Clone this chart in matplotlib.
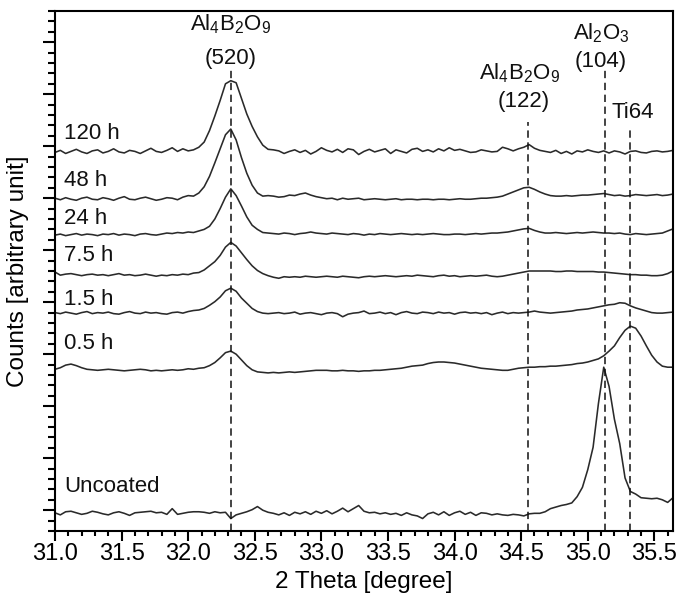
import matplotlib
matplotlib.use("Agg")
import matplotlib.pyplot as plt
from matplotlib.ticker import MultipleLocator, NullFormatter

plt.rcParams['font.family'] = ['Liberation Sans', 'DejaVu Sans']
plt.rcParams['mathtext.default'] = 'regular'

# 2-theta sampling positions (degree)
two_theta = [
    31.00, 31.04, 31.08, 31.12, 31.16, 31.20, 31.24, 31.28, 31.32, 31.36,
    31.40, 31.44, 31.48, 31.52, 31.56, 31.60, 31.64, 31.68, 31.72, 31.76,
    31.80, 31.84, 31.88, 31.92, 31.96, 32.00, 32.04, 32.08, 32.12, 32.16,
    32.20, 32.24, 32.28, 32.32, 32.36, 32.40, 32.44, 32.48, 32.52, 32.56,
    32.60, 32.64, 32.68, 32.72, 32.76, 32.80, 32.84, 32.88, 32.92, 32.96,
    33.00, 33.04, 33.08, 33.12, 33.16, 33.20, 33.24, 33.28, 33.32, 33.36,
    33.40, 33.44, 33.48, 33.52, 33.56, 33.60, 33.64, 33.68, 33.72, 33.76,
    33.80, 33.84, 33.88, 33.92, 33.96, 34.00, 34.04, 34.08, 34.12, 34.16,
    34.20, 34.24, 34.28, 34.32, 34.36, 34.40, 34.44, 34.48, 34.52, 34.56,
    34.60, 34.64, 34.68, 34.72, 34.76, 34.80, 34.84, 34.88, 34.92, 34.96,
    35.00, 35.04, 35.08, 35.12, 35.16, 35.20, 35.24, 35.28, 35.32, 35.36,
    35.40, 35.44, 35.48, 35.52, 35.56, 35.60, 35.64,
]

# Stacked (offset) counts, arbitrary units
counts_120h = [
    6.88, 6.92, 6.86, 6.90, 6.94, 6.89, 6.86, 6.91, 6.93, 6.87,
    6.90, 6.95, 6.89, 6.87, 6.92, 6.90, 6.86, 6.91, 6.96, 6.90,
    6.88, 6.92, 6.97, 6.90, 6.95, 6.91, 6.93, 6.98, 7.08, 7.30,
    7.58, 7.88, 8.20, 8.26, 8.22, 7.92, 7.62, 7.38, 7.18, 7.02,
    6.94, 6.93, 6.91, 6.86, 6.90, 6.93, 6.88, 6.92, 6.85, 6.90,
    6.97, 6.92, 6.89, 6.94, 6.88, 6.95, 6.93, 6.84, 6.90, 6.94,
    6.89, 6.92, 6.95, 6.86, 6.93, 6.90, 6.87, 6.94, 6.96, 6.90,
    6.93, 6.89, 6.95, 6.91, 6.97, 6.92, 6.94, 6.91, 6.88, 6.89,
    6.93, 6.91, 6.89, 6.90, 6.98, 6.95, 6.91, 6.95, 6.98, 7.03,
    6.96, 6.92, 6.90, 6.88, 6.92, 6.86, 6.90, 6.85, 6.91, 6.89,
    6.93, 6.90, 6.88, 6.91, 6.87, 6.91, 6.89, 6.85, 6.90, 6.91,
    6.88, 6.87, 6.90, 6.91, 6.89, 6.90, 6.92,
]
counts_48h = [
    6.00, 5.97, 6.01, 5.98, 5.96, 6.00, 6.02, 5.98, 5.97, 6.01,
    5.99, 5.96, 6.00, 6.03, 5.98, 5.97, 6.00, 6.02, 5.99, 5.96,
    5.98, 6.01, 6.00, 5.97, 6.02, 6.05, 6.04, 6.10, 6.22, 6.42,
    6.68, 6.95, 7.22, 7.33, 7.12, 6.78, 6.48, 6.25, 6.10, 6.04,
    6.05, 6.04, 6.02, 6.03, 6.06, 6.05, 6.08, 6.10, 6.06, 6.03,
    6.01, 5.99, 6.00, 5.97, 6.00, 5.98, 5.99, 6.00, 5.97, 5.98,
    5.99, 5.98, 5.97, 5.98, 5.99, 5.97, 5.98, 5.98, 5.97, 5.98,
    5.98, 5.97, 5.98, 5.98, 5.97, 5.98, 5.99, 5.98, 5.98, 5.99,
    6.00, 6.00, 6.01, 6.02, 6.04, 6.08, 6.12, 6.16, 6.20, 6.21,
    6.17, 6.12, 6.08, 6.05, 6.04, 6.04, 6.05, 6.04, 6.05, 6.06,
    6.06, 6.07, 6.08, 6.09, 6.07, 6.05, 6.06, 6.04, 6.05, 6.07,
    6.06, 6.05, 6.06, 6.07, 6.05, 6.06, 6.08,
]
counts_24h = [
    5.29, 5.31, 5.28, 5.30, 5.32, 5.29, 5.31, 5.30, 5.28, 5.31,
    5.30, 5.32, 5.29, 5.31, 5.30, 5.28, 5.31, 5.32, 5.30, 5.29,
    5.31, 5.33, 5.32, 5.34, 5.33, 5.35, 5.34, 5.37, 5.40, 5.46,
    5.60, 5.80, 6.02, 6.18, 6.05, 5.85, 5.64, 5.48, 5.40, 5.34,
    5.33, 5.32, 5.31, 5.33, 5.32, 5.30, 5.32, 5.33, 5.35, 5.33,
    5.32, 5.31, 5.33, 5.32, 5.31, 5.30, 5.32, 5.31, 5.29, 5.31,
    5.30, 5.32, 5.31, 5.30, 5.31, 5.32, 5.31, 5.30, 5.31, 5.30,
    5.31, 5.32, 5.31, 5.30, 5.30, 5.31, 5.31, 5.30, 5.31, 5.32,
    5.31, 5.32, 5.33, 5.33, 5.34, 5.35, 5.37, 5.39, 5.41, 5.42,
    5.38, 5.35, 5.33, 5.33, 5.34, 5.33, 5.32, 5.33, 5.34, 5.33,
    5.34, 5.35, 5.34, 5.33, 5.33, 5.32, 5.33, 5.31, 5.30, 5.32,
    5.31, 5.30, 5.31, 5.32, 5.33, 5.37, 5.41,
]
counts_7_5h = [
    4.58, 4.52, 4.54, 4.55, 4.53, 4.51, 4.53, 4.54, 4.52, 4.53,
    4.51, 4.53, 4.55, 4.52, 4.53, 4.51, 4.52, 4.54, 4.52, 4.50,
    4.52, 4.51, 4.53, 4.52, 4.54, 4.53, 4.56, 4.57, 4.62, 4.70,
    4.78, 4.90, 5.06, 5.15, 5.08, 4.95, 4.82, 4.70, 4.61, 4.55,
    4.51, 4.48, 4.46, 4.49, 4.48, 4.49, 4.48, 4.50, 4.49, 4.48,
    4.49, 4.50, 4.49, 4.48, 4.50, 4.49, 4.48, 4.47, 4.49, 4.50,
    4.49, 4.50, 4.51, 4.50, 4.49, 4.50, 4.51, 4.50, 4.52, 4.51,
    4.50, 4.49, 4.51, 4.52, 4.50, 4.51, 4.49, 4.50, 4.51, 4.50,
    4.51, 4.52, 4.50, 4.49, 4.50, 4.52, 4.54, 4.56, 4.58, 4.60,
    4.60, 4.60, 4.60, 4.60, 4.59, 4.59, 4.60, 4.60, 4.59, 4.59,
    4.59, 4.59, 4.58, 4.58, 4.57, 4.56, 4.55, 4.54, 4.53, 4.53,
    4.52, 4.52, 4.51, 4.51, 4.52, 4.55, 4.60,
]
counts_1_5h = [
    3.80, 3.78, 3.81, 3.79, 3.77, 3.80, 3.82, 3.78, 3.80, 3.79,
    3.81, 3.78, 3.77, 3.80, 3.82, 3.79, 3.78, 3.81, 3.79, 3.80,
    3.78, 3.77, 3.80, 3.81, 3.79, 3.82, 3.84, 3.85, 3.88, 3.94,
    4.01, 4.10, 4.22, 4.27, 4.21, 4.08, 3.98, 3.88, 3.82, 3.79,
    3.78, 3.79, 3.80, 3.78, 3.79, 3.81, 3.77, 3.79, 3.80, 3.78,
    3.76, 3.79, 3.80, 3.78, 3.72, 3.77, 3.79, 3.80, 3.83, 3.78,
    3.79, 3.81, 3.78, 3.80, 3.76, 3.80, 3.82, 3.79, 3.78, 3.81,
    3.80, 3.78, 3.81, 3.79, 3.80, 3.77, 3.80, 3.81, 3.79, 3.80,
    3.78, 3.80, 3.76, 3.79, 3.81, 3.78, 3.80, 3.79, 3.80, 3.81,
    3.83, 3.81, 3.80, 3.79, 3.80, 3.81, 3.82, 3.83, 3.85, 3.86,
    3.87, 3.89, 3.91, 3.93, 3.95, 3.96, 3.99, 3.98, 3.93, 3.89,
    3.86, 3.83, 3.80, 3.79, 3.79, 3.80, 3.81,
]
counts_0_5h = [
    2.71, 2.74, 2.79, 2.81, 2.78, 2.74, 2.71, 2.70, 2.69, 2.70,
    2.71, 2.70, 2.69, 2.68, 2.69, 2.70, 2.71, 2.70, 2.68, 2.69,
    2.68, 2.69, 2.70, 2.69, 2.70, 2.72, 2.71, 2.73, 2.74, 2.78,
    2.84, 2.93, 3.03, 3.06, 3.00, 2.89, 2.78, 2.70, 2.66, 2.65,
    2.64, 2.65, 2.64, 2.65, 2.66, 2.65, 2.66, 2.67, 2.68, 2.69,
    2.69, 2.69, 2.68, 2.68, 2.69, 2.68, 2.68, 2.67, 2.68, 2.68,
    2.69, 2.69, 2.70, 2.71, 2.72, 2.73, 2.75, 2.77, 2.78, 2.79,
    2.82, 2.84, 2.85, 2.85, 2.84, 2.83, 2.81, 2.79, 2.77, 2.75,
    2.73, 2.72, 2.71, 2.70, 2.69, 2.69, 2.71, 2.73, 2.74, 2.75,
    2.75, 2.76, 2.76, 2.77, 2.77, 2.78, 2.79, 2.80, 2.82, 2.83,
    2.85, 2.88, 2.91, 2.97, 3.06, 3.16, 3.32, 3.46, 3.54, 3.50,
    3.35, 3.16, 2.98, 2.85, 2.77, 2.75, 2.75,
]
counts_uncoated = [
    -0.05, -0.09, -0.03, -0.02, -0.05, -0.08, -0.06, -0.02, -0.04, -0.07,
    -0.09, -0.05, -0.03, -0.06, -0.10, -0.05, -0.04, -0.03, -0.02, -0.05,
    -0.04, -0.08, 0.03, -0.08, -0.06, -0.04, -0.03, -0.03, -0.04, -0.06,
    -0.03, -0.05, -0.04, -0.16, -0.09, -0.06, -0.03, 0.01, 0.07, 0.00,
    -0.04, -0.06, -0.09, -0.05, -0.10, -0.04, -0.07, -0.03, -0.08, -0.02,
    -0.06, -0.01, -0.07, -0.02, 0.04, -0.03, 0.03, 0.09, -0.02, -0.05,
    -0.04, -0.07, -0.05, -0.08, -0.06, -0.10, -0.05, -0.09, -0.11, -0.16,
    -0.07, -0.04, -0.09, -0.03, -0.10, -0.05, -0.02, -0.08, -0.04, -0.10,
    -0.05, -0.06, -0.09, -0.07, -0.09, -0.10, -0.08, -0.09, -0.11, -0.07,
    -0.06, -0.06, -0.03, 0.03, 0.06, 0.09, 0.11, 0.14, 0.26, 0.44,
    0.78, 1.21, 2.05, 2.75, 2.38, 1.75, 1.28, 0.62, 0.36, 0.31,
    0.24, 0.23, 0.22, 0.23, 0.20, 0.15, 0.24,
]

series = [counts_120h, counts_48h, counts_24h, counts_7_5h,
          counts_1_5h, counts_0_5h, counts_uncoated]
sample_labels = ["120 h", "48 h", "24 h", "7.5 h", "1.5 h", "0.5 h", "Uncoated"]
label_heights = [7.25, 6.35, 5.60, 4.90, 4.06, 3.21, 0.46]

# reference peak positions
peak_positions = [32.32, 34.55, 35.13, 35.32]
peak_line_tops = [8.46, 7.46, 8.46, 7.31]
peak_names = [r"Al$_4$B$_2$O$_9$", r"Al$_4$B$_2$O$_9$", r"Al$_2$O$_3$", "Ti64"]
peak_hkl = ["(520)", "(122)", "(104)", ""]
name_xy = [(32.32, 9.35), (34.49, 8.40), (35.10, 9.17), (35.34, 7.65)]
hkl_xy = [(32.32, 8.69), (34.52, 7.85), (35.10, 8.63), None]

W, H = 679, 604
fig = plt.figure(figsize=(W / 100, H / 100), dpi=100)
ax = fig.add_axes([55 / W, 1 - 531 / H, (673 - 55) / W, (531 - 11) / H])

for ys in series:
    ax.plot(two_theta, ys, color='#2a2a2a', lw=1.15)

ymin, ymax = -0.40, 9.60
for xp, top in zip(peak_positions, peak_line_tops):
    ax.plot([xp, xp], [ymin, top], color='#111111', lw=1.1,
            linestyle=(0, (4.8, 3.0)))

for lab, yl in zip(sample_labels, label_heights):
    ax.text(31.07, yl, lab, fontsize=16, ha='left', va='center', color='#111111')

for name, (nx, ny) in zip(peak_names, name_xy):
    ax.text(nx, ny, name, fontsize=16, ha='center', va='center', color='#111111')
for hkl, pos in zip(peak_hkl, hkl_xy):
    if pos is not None:
        ax.text(pos[0], pos[1], hkl, fontsize=16, ha='center', va='center', color='#111111')

ax.set_xlim(31.0, 35.64)
ax.set_ylim(ymin, ymax)

ax.xaxis.set_major_locator(MultipleLocator(0.5))
ax.xaxis.set_minor_locator(MultipleLocator(0.1))
ax.yaxis.set_major_locator(MultipleLocator(1.0))
ax.yaxis.set_minor_locator(MultipleLocator(0.2))
ax.yaxis.set_major_formatter(NullFormatter())
ax.xaxis.set_major_formatter(matplotlib.ticker.FormatStrFormatter('%.1f'))

ax.tick_params(axis='x', which='major', direction='out', length=7.2, width=1.5,
               labelsize=17, pad=1.5)
ax.tick_params(axis='x', which='minor', direction='out', length=3.6, width=1.5)
ax.tick_params(axis='y', which='major', direction='out', length=9, width=1.5)
ax.tick_params(axis='y', which='minor', direction='out', length=5, width=1.5)

for s in ax.spines.values():
    s.set_linewidth(1.5)

ax.set_xlabel("2 Theta [degree]", fontsize=17.5, labelpad=4)
ax.set_ylabel("Counts [arbitrary unit]", fontsize=17.5)
ax.yaxis.set_label_coords(-0.042, 0.5)

fig.savefig("out.png", dpi=100)
